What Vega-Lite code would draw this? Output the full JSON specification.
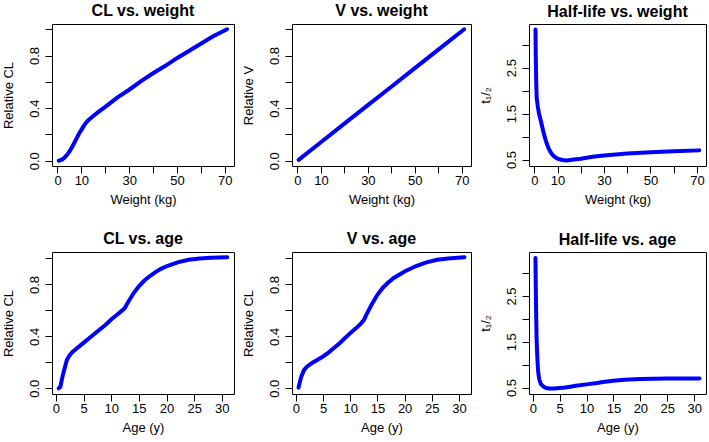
{
  "$schema": "https://vega.github.io/schema/vega-lite/v6.json",
  "background": "white",
  "padding": {"left": 1, "top": 2, "right": 0, "bottom": 0},
  "config": {
    "font": "Liberation Sans",
    "view": {"stroke": "black", "strokeWidth": 1},
    "title": {"font": "Liberation Sans", "fontSize": 16, "fontWeight": "bold", "color": "black", "offset": 2, "anchor": "middle"},
    "axis": {
      "domain": false, "grid": false, "ticks": true, "tickSize": 7, "tickColor": "black", "tickWidth": 1,
      "labelFont": "Liberation Sans", "labelFontSize": 13, "labelColor": "black", "labelPadding": 1,
      "labelFlush": false, "labelOverlap": false,
      "titleFont": "Liberation Sans", "titleFontSize": 13, "titleFontWeight": "normal", "titleColor": "black"
    },
    "axisX": {"titlePadding": 6},
    "axisY": {"labelAngle": 270, "labelAlign": "center", "labelBaseline": "bottom", "labelPadding": 4, "titlePadding": 13}
  },
  "datasets": {
    "curves": [
      {"panel": "cl_wt", "x": 0.5, "y": 0.0},
      {"panel": "cl_wt", "x": 1, "y": 0.003},
      {"panel": "cl_wt", "x": 2, "y": 0.01},
      {"panel": "cl_wt", "x": 3, "y": 0.025},
      {"panel": "cl_wt", "x": 4, "y": 0.045},
      {"panel": "cl_wt", "x": 5, "y": 0.07},
      {"panel": "cl_wt", "x": 6, "y": 0.1},
      {"panel": "cl_wt", "x": 7, "y": 0.135},
      {"panel": "cl_wt", "x": 8, "y": 0.17},
      {"panel": "cl_wt", "x": 9, "y": 0.205},
      {"panel": "cl_wt", "x": 10, "y": 0.235},
      {"panel": "cl_wt", "x": 11, "y": 0.265},
      {"panel": "cl_wt", "x": 12, "y": 0.29},
      {"panel": "cl_wt", "x": 13, "y": 0.31},
      {"panel": "cl_wt", "x": 15, "y": 0.34},
      {"panel": "cl_wt", "x": 17, "y": 0.37},
      {"panel": "cl_wt", "x": 20, "y": 0.41},
      {"panel": "cl_wt", "x": 25, "y": 0.48},
      {"panel": "cl_wt", "x": 30, "y": 0.54},
      {"panel": "cl_wt", "x": 35, "y": 0.605},
      {"panel": "cl_wt", "x": 40, "y": 0.665},
      {"panel": "cl_wt", "x": 45, "y": 0.72},
      {"panel": "cl_wt", "x": 50, "y": 0.78},
      {"panel": "cl_wt", "x": 55, "y": 0.835},
      {"panel": "cl_wt", "x": 60, "y": 0.89},
      {"panel": "cl_wt", "x": 65, "y": 0.945},
      {"panel": "cl_wt", "x": 71, "y": 1.0},
      {"panel": "v_wt", "x": 0.5, "y": 0.007},
      {"panel": "v_wt", "x": 10, "y": 0.141},
      {"panel": "v_wt", "x": 20, "y": 0.282},
      {"panel": "v_wt", "x": 30, "y": 0.423},
      {"panel": "v_wt", "x": 40, "y": 0.563},
      {"panel": "v_wt", "x": 50, "y": 0.704},
      {"panel": "v_wt", "x": 60, "y": 0.845},
      {"panel": "v_wt", "x": 71, "y": 1.0},
      {"panel": "t_wt", "x": 0.5, "y": 3.33},
      {"panel": "t_wt", "x": 0.6, "y": 2.8},
      {"panel": "t_wt", "x": 0.8, "y": 2.2},
      {"panel": "t_wt", "x": 1.0, "y": 1.85},
      {"panel": "t_wt", "x": 1.5, "y": 1.65},
      {"panel": "t_wt", "x": 2, "y": 1.5},
      {"panel": "t_wt", "x": 3, "y": 1.3},
      {"panel": "t_wt", "x": 4, "y": 1.08},
      {"panel": "t_wt", "x": 5, "y": 0.9},
      {"panel": "t_wt", "x": 6, "y": 0.76},
      {"panel": "t_wt", "x": 7, "y": 0.66},
      {"panel": "t_wt", "x": 8, "y": 0.59},
      {"panel": "t_wt", "x": 9, "y": 0.55},
      {"panel": "t_wt", "x": 10, "y": 0.52},
      {"panel": "t_wt", "x": 12, "y": 0.49},
      {"panel": "t_wt", "x": 14, "y": 0.48},
      {"panel": "t_wt", "x": 17, "y": 0.5},
      {"panel": "t_wt", "x": 20, "y": 0.52},
      {"panel": "t_wt", "x": 25, "y": 0.56},
      {"panel": "t_wt", "x": 30, "y": 0.59},
      {"panel": "t_wt", "x": 40, "y": 0.63},
      {"panel": "t_wt", "x": 50, "y": 0.66},
      {"panel": "t_wt", "x": 60, "y": 0.68},
      {"panel": "t_wt", "x": 71, "y": 0.7},
      {"panel": "cl_age", "x": 0.5, "y": 0.0},
      {"panel": "cl_age", "x": 0.8, "y": 0.01},
      {"panel": "cl_age", "x": 1.0, "y": 0.05},
      {"panel": "cl_age", "x": 1.2, "y": 0.09},
      {"panel": "cl_age", "x": 1.5, "y": 0.14},
      {"panel": "cl_age", "x": 2.0, "y": 0.22},
      {"panel": "cl_age", "x": 2.5, "y": 0.255},
      {"panel": "cl_age", "x": 3, "y": 0.28},
      {"panel": "cl_age", "x": 4, "y": 0.315},
      {"panel": "cl_age", "x": 5, "y": 0.35},
      {"panel": "cl_age", "x": 6, "y": 0.385},
      {"panel": "cl_age", "x": 7, "y": 0.42},
      {"panel": "cl_age", "x": 8, "y": 0.455},
      {"panel": "cl_age", "x": 9, "y": 0.49},
      {"panel": "cl_age", "x": 10, "y": 0.53},
      {"panel": "cl_age", "x": 11, "y": 0.565},
      {"panel": "cl_age", "x": 12, "y": 0.6},
      {"panel": "cl_age", "x": 12.5, "y": 0.62},
      {"panel": "cl_age", "x": 13, "y": 0.66},
      {"panel": "cl_age", "x": 14, "y": 0.73},
      {"panel": "cl_age", "x": 15, "y": 0.785},
      {"panel": "cl_age", "x": 16, "y": 0.83},
      {"panel": "cl_age", "x": 17, "y": 0.865},
      {"panel": "cl_age", "x": 18, "y": 0.895},
      {"panel": "cl_age", "x": 19, "y": 0.92},
      {"panel": "cl_age", "x": 20, "y": 0.94},
      {"panel": "cl_age", "x": 22, "y": 0.97},
      {"panel": "cl_age", "x": 24, "y": 0.99},
      {"panel": "cl_age", "x": 26, "y": 1.0},
      {"panel": "cl_age", "x": 28, "y": 1.005},
      {"panel": "cl_age", "x": 31, "y": 1.01},
      {"panel": "v_age", "x": 0.5, "y": 0.005},
      {"panel": "v_age", "x": 0.7, "y": 0.04},
      {"panel": "v_age", "x": 1.0, "y": 0.09},
      {"panel": "v_age", "x": 1.5, "y": 0.14},
      {"panel": "v_age", "x": 2, "y": 0.165},
      {"panel": "v_age", "x": 2.5, "y": 0.18},
      {"panel": "v_age", "x": 3, "y": 0.195},
      {"panel": "v_age", "x": 4, "y": 0.22},
      {"panel": "v_age", "x": 5, "y": 0.245},
      {"panel": "v_age", "x": 6, "y": 0.275},
      {"panel": "v_age", "x": 7, "y": 0.31},
      {"panel": "v_age", "x": 8, "y": 0.345},
      {"panel": "v_age", "x": 9, "y": 0.385},
      {"panel": "v_age", "x": 10, "y": 0.425},
      {"panel": "v_age", "x": 11, "y": 0.46},
      {"panel": "v_age", "x": 12, "y": 0.5},
      {"panel": "v_age", "x": 12.5, "y": 0.525},
      {"panel": "v_age", "x": 13, "y": 0.57},
      {"panel": "v_age", "x": 14, "y": 0.65},
      {"panel": "v_age", "x": 15, "y": 0.72},
      {"panel": "v_age", "x": 16, "y": 0.775},
      {"panel": "v_age", "x": 17, "y": 0.815},
      {"panel": "v_age", "x": 18, "y": 0.85},
      {"panel": "v_age", "x": 19, "y": 0.875},
      {"panel": "v_age", "x": 20, "y": 0.9},
      {"panel": "v_age", "x": 22, "y": 0.94},
      {"panel": "v_age", "x": 24, "y": 0.97},
      {"panel": "v_age", "x": 26, "y": 0.99},
      {"panel": "v_age", "x": 28, "y": 1.0},
      {"panel": "v_age", "x": 31, "y": 1.01},
      {"panel": "t_age", "x": 0.5, "y": 3.33},
      {"panel": "t_age", "x": 0.55, "y": 2.8},
      {"panel": "t_age", "x": 0.62, "y": 2.2},
      {"panel": "t_age", "x": 0.7, "y": 1.6},
      {"panel": "t_age", "x": 0.85, "y": 1.15},
      {"panel": "t_age", "x": 1.0, "y": 0.85},
      {"panel": "t_age", "x": 1.2, "y": 0.68},
      {"panel": "t_age", "x": 1.5, "y": 0.58},
      {"panel": "t_age", "x": 2, "y": 0.52},
      {"panel": "t_age", "x": 2.5, "y": 0.49},
      {"panel": "t_age", "x": 3, "y": 0.48},
      {"panel": "t_age", "x": 4, "y": 0.48},
      {"panel": "t_age", "x": 5, "y": 0.49},
      {"panel": "t_age", "x": 6, "y": 0.5},
      {"panel": "t_age", "x": 7, "y": 0.52},
      {"panel": "t_age", "x": 8, "y": 0.54},
      {"panel": "t_age", "x": 10, "y": 0.57},
      {"panel": "t_age", "x": 12, "y": 0.6},
      {"panel": "t_age", "x": 13, "y": 0.62},
      {"panel": "t_age", "x": 15, "y": 0.65},
      {"panel": "t_age", "x": 17, "y": 0.67},
      {"panel": "t_age", "x": 20, "y": 0.69},
      {"panel": "t_age", "x": 25, "y": 0.7},
      {"panel": "t_age", "x": 31, "y": 0.7}
    ]
  },
  "columns": 3,
  "spacing": {"row": 86, "column": 58},
  "bounds": "flush",
  "concat": [
    {
      "width": 182, "height": 142,
      "title": "CL vs. weight",
      "data": {"name": "curves"},
      "transform": [{"filter": "datum.panel === 'cl_wt'"}],
      "mark": {"type": "line", "color": "#0000ff", "strokeWidth": 4, "strokeCap": "round"},
      "encoding": {
        "x": {"field": "x", "type": "quantitative", "scale": {"domain": [-2.3, 73.9], "nice": false, "zero": false},
              "axis": {"title": "Weight (kg)", "values": [0, 10, 20, 30, 40, 50, 60, 70], "labelExpr": "datum.value == 20 || datum.value == 40 || datum.value == 60 ? '' : datum.label"}},
        "y": {"field": "y", "type": "quantitative", "scale": {"domain": [-0.04, 1.04], "nice": false, "zero": false},
              "axis": {"title": "Relative CL", "values": [0, 0.2, 0.4, 0.6, 0.8, 1.0], "labelExpr": "datum.value == 0.2 || datum.value == 0.6 || datum.value == 1 ? '' : format(datum.value, '.1f')"}}
      }
    },
    {
      "width": 179, "height": 142,
      "title": "V vs. weight",
      "data": {"name": "curves"},
      "transform": [{"filter": "datum.panel === 'v_wt'"}],
      "mark": {"type": "line", "color": "#0000ff", "strokeWidth": 4, "strokeCap": "round"},
      "encoding": {
        "x": {"field": "x", "type": "quantitative", "scale": {"domain": [-2.3, 73.9], "nice": false, "zero": false},
              "axis": {"title": "Weight (kg)", "values": [0, 10, 20, 30, 40, 50, 60, 70], "labelExpr": "datum.value == 20 || datum.value == 40 || datum.value == 60 ? '' : datum.label"}},
        "y": {"field": "y", "type": "quantitative", "scale": {"domain": [-0.04, 1.04], "nice": false, "zero": false},
              "axis": {"title": "Relative V", "values": [0, 0.2, 0.4, 0.6, 0.8, 1.0], "labelExpr": "datum.value == 0.2 || datum.value == 0.6 || datum.value == 1 ? '' : format(datum.value, '.1f')"}}
      }
    },
    {
      "width": 177, "height": 142,
      "title": "Half-life vs. weight",
      "data": {"name": "curves"},
      "transform": [{"filter": "datum.panel === 't_wt'"}],
      "mark": {"type": "line", "color": "#0000ff", "strokeWidth": 4, "strokeCap": "round"},
      "encoding": {
        "x": {"field": "x", "type": "quantitative", "scale": {"domain": [-2.3, 73.9], "nice": false, "zero": false},
              "axis": {"title": "Weight (kg)", "values": [0, 10, 20, 30, 40, 50, 60, 70], "labelExpr": "datum.value == 20 || datum.value == 40 || datum.value == 60 ? '' : datum.label"}},
        "y": {"field": "y", "type": "quantitative", "scale": {"domain": [0.36, 3.45], "nice": false, "zero": false},
              "axis": {"title": "t₁/₂", "values": [0.5, 1, 1.5, 2, 2.5, 3], "labelExpr": "datum.value == 1 || datum.value == 2 || datum.value == 3 ? '' : format(datum.value, '.1f')"}}
      }
    },
    {
      "width": 182, "height": 142,
      "title": "CL vs. age",
      "data": {"name": "curves"},
      "transform": [{"filter": "datum.panel === 'cl_age'"}],
      "mark": {"type": "line", "color": "#0000ff", "strokeWidth": 4, "strokeCap": "round"},
      "encoding": {
        "x": {"field": "x", "type": "quantitative", "scale": {"domain": [-0.7, 32.2], "nice": false, "zero": false},
              "axis": {"title": "Age (y)", "values": [0, 5, 10, 15, 20, 25, 30], "format": "d"}},
        "y": {"field": "y", "type": "quantitative", "scale": {"domain": [-0.044, 1.05], "nice": false, "zero": false},
              "axis": {"title": "Relative CL", "values": [0, 0.2, 0.4, 0.6, 0.8, 1.0], "labelExpr": "datum.value == 0.2 || datum.value == 0.6 || datum.value == 1 ? '' : format(datum.value, '.1f')"}}
      }
    },
    {
      "width": 179, "height": 142,
      "title": "V vs. age",
      "data": {"name": "curves"},
      "transform": [{"filter": "datum.panel === 'v_age'"}],
      "mark": {"type": "line", "color": "#0000ff", "strokeWidth": 4, "strokeCap": "round"},
      "encoding": {
        "x": {"field": "x", "type": "quantitative", "scale": {"domain": [-0.7, 32.2], "nice": false, "zero": false},
              "axis": {"title": "Age (y)", "values": [0, 5, 10, 15, 20, 25, 30], "format": "d"}},
        "y": {"field": "y", "type": "quantitative", "scale": {"domain": [-0.044, 1.05], "nice": false, "zero": false},
              "axis": {"title": "Relative CL", "values": [0, 0.2, 0.4, 0.6, 0.8, 1.0], "labelExpr": "datum.value == 0.2 || datum.value == 0.6 || datum.value == 1 ? '' : format(datum.value, '.1f')"}}
      }
    },
    {
      "width": 177, "height": 142,
      "title": "Half-life vs. age",
      "data": {"name": "curves"},
      "transform": [{"filter": "datum.panel === 't_age'"}],
      "mark": {"type": "line", "color": "#0000ff", "strokeWidth": 4, "strokeCap": "round"},
      "encoding": {
        "x": {"field": "x", "type": "quantitative", "scale": {"domain": [-0.7, 32.2], "nice": false, "zero": false},
              "axis": {"title": "Age (y)", "values": [0, 5, 10, 15, 20, 25, 30], "format": "d"}},
        "y": {"field": "y", "type": "quantitative", "scale": {"domain": [0.36, 3.46], "nice": false, "zero": false},
              "axis": {"title": "t₁/₂", "values": [0.5, 1, 1.5, 2, 2.5, 3], "labelExpr": "datum.value == 1 || datum.value == 2 || datum.value == 3 ? '' : format(datum.value, '.1f')"}}
      }
    }
  ]
}
